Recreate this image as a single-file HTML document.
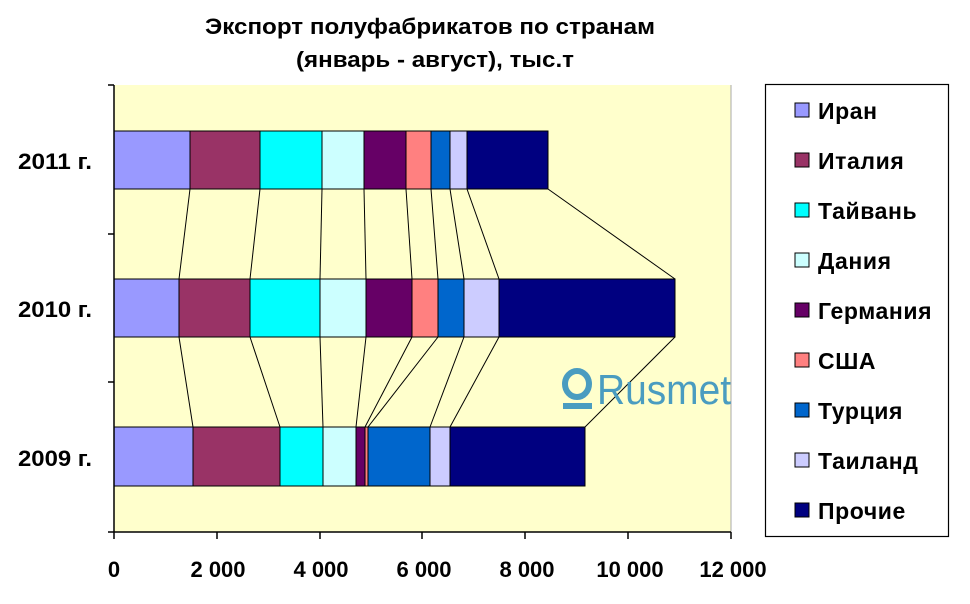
<!DOCTYPE html>
<html><head><meta charset="utf-8"><style>
html,body{margin:0;padding:0;background:#fff;}
svg{display:block;font-family:"Liberation Sans",Arial,sans-serif;}
</style></head><body>
<svg width="970" height="604" viewBox="0 0 970 604" xmlns="http://www.w3.org/2000/svg">
<rect width="970" height="604" fill="#fff"/>
<text x="430" y="34" text-anchor="middle" font-size="22" font-weight="bold" textLength="450" lengthAdjust="spacingAndGlyphs">Экспорт полуфабрикатов по странам</text>
<text x="435" y="67" text-anchor="middle" font-size="22" font-weight="bold" textLength="278" lengthAdjust="spacingAndGlyphs">(январь - август), тыс.т</text>
<rect x="114" y="85" width="617" height="447" fill="#ffffcc"/>
<line x1="731" y1="85" x2="731" y2="532" stroke="#aaa" stroke-width="1"/>
<g stroke="#000" stroke-width="1" fill="none">
<line x1="190" y1="189" x2="179" y2="279"/>
<line x1="260" y1="189" x2="250" y2="279"/>
<line x1="322" y1="189" x2="320" y2="279"/>
<line x1="364" y1="189" x2="366" y2="279"/>
<line x1="406" y1="189" x2="412" y2="279"/>
<line x1="431" y1="189" x2="438" y2="279"/>
<line x1="450" y1="189" x2="464" y2="279"/>
<line x1="467" y1="189" x2="499" y2="279"/>
<line x1="548" y1="189" x2="675" y2="279"/>
<line x1="179" y1="337" x2="193" y2="427"/>
<line x1="250" y1="337" x2="280" y2="427"/>
<line x1="320" y1="337" x2="323" y2="427"/>
<line x1="366" y1="337" x2="356" y2="427"/>
<line x1="412" y1="337" x2="365" y2="427"/>
<line x1="438" y1="337" x2="368" y2="427"/>
<line x1="464" y1="337" x2="430" y2="427"/>
<line x1="499" y1="337" x2="450" y2="427"/>
<line x1="675" y1="337" x2="585" y2="427"/>
</g>
<g fill="#4a9cc0">
<ellipse cx="577" cy="384" rx="12" ry="13" fill="none" stroke="#4a9cc0" stroke-width="6"/>
<rect x="563" y="403" width="29" height="6"/>
<text x="597" y="404" font-size="42" font-family="'Liberation Sans',sans-serif" textLength="134" lengthAdjust="spacingAndGlyphs">Rusmet</text>
</g>
<g stroke="#000" stroke-width="1">
<rect x="114" y="131" width="76" height="58" fill="#9999ff"/>
<rect x="190" y="131" width="70" height="58" fill="#993366"/>
<rect x="260" y="131" width="62" height="58" fill="#00ffff"/>
<rect x="322" y="131" width="42" height="58" fill="#ccffff"/>
<rect x="364" y="131" width="42" height="58" fill="#660066"/>
<rect x="406" y="131" width="25" height="58" fill="#ff8080"/>
<rect x="431" y="131" width="19" height="58" fill="#0066cc"/>
<rect x="450" y="131" width="17" height="58" fill="#ccccff"/>
<rect x="467" y="131" width="81" height="58" fill="#000080"/>
<rect x="114" y="279" width="65" height="58" fill="#9999ff"/>
<rect x="179" y="279" width="71" height="58" fill="#993366"/>
<rect x="250" y="279" width="70" height="58" fill="#00ffff"/>
<rect x="320" y="279" width="46" height="58" fill="#ccffff"/>
<rect x="366" y="279" width="46" height="58" fill="#660066"/>
<rect x="412" y="279" width="26" height="58" fill="#ff8080"/>
<rect x="438" y="279" width="26" height="58" fill="#0066cc"/>
<rect x="464" y="279" width="35" height="58" fill="#ccccff"/>
<rect x="499" y="279" width="176" height="58" fill="#000080"/>
<rect x="114" y="427" width="79" height="59" fill="#9999ff"/>
<rect x="193" y="427" width="87" height="59" fill="#993366"/>
<rect x="280" y="427" width="43" height="59" fill="#00ffff"/>
<rect x="323" y="427" width="33" height="59" fill="#ccffff"/>
<rect x="356" y="427" width="9" height="59" fill="#660066"/>
<rect x="365" y="427" width="3" height="59" fill="#ff8080"/>
<rect x="368" y="427" width="62" height="59" fill="#0066cc"/>
<rect x="430" y="427" width="20" height="59" fill="#ccccff"/>
<rect x="450" y="427" width="135" height="59" fill="#000080"/>
</g>
<g stroke="#000" stroke-width="1.5">
<line x1="114" y1="85" x2="114" y2="532"/>
<line x1="114" y1="532" x2="731" y2="532"/>
<line x1="108" y1="85" x2="114" y2="85"/>
<line x1="108" y1="234" x2="114" y2="234"/>
<line x1="108" y1="382" x2="114" y2="382"/>
<line x1="108" y1="532" x2="114" y2="532"/>
<line x1="114" y1="532" x2="114" y2="539"/>
<line x1="217" y1="532" x2="217" y2="539"/>
<line x1="320" y1="532" x2="320" y2="539"/>
<line x1="422" y1="532" x2="422" y2="539"/>
<line x1="525" y1="532" x2="525" y2="539"/>
<line x1="628" y1="532" x2="628" y2="539"/>
<line x1="731" y1="532" x2="731" y2="539"/>
</g>
<g font-size="22" font-weight="bold" text-anchor="middle">
<text x="114" y="577">0</text>
<text x="218" y="577">2 000</text>
<text x="321" y="577">4 000</text>
<text x="424" y="577">6 000</text>
<text x="527" y="577">8 000</text>
<text x="630" y="577">10 000</text>
<text x="733" y="577">12 000</text>
</g>
<g font-size="22" font-weight="bold">
<text x="18" y="169" textLength="74" lengthAdjust="spacingAndGlyphs">2011 г.</text>
<text x="18" y="317" textLength="74" lengthAdjust="spacingAndGlyphs">2010 г.</text>
<text x="18" y="466" textLength="74" lengthAdjust="spacingAndGlyphs">2009 г.</text>
</g>
<rect x="765.5" y="84.5" width="183" height="452" fill="#fff" stroke="#000" stroke-width="1.2"/>
<g stroke="#000" stroke-width="1">
<rect x="795" y="103" width="14" height="14" fill="#9999ff"/>
<rect x="795" y="153" width="14" height="14" fill="#993366"/>
<rect x="795" y="203" width="14" height="14" fill="#00ffff"/>
<rect x="795" y="253" width="14" height="14" fill="#ccffff"/>
<rect x="795" y="303" width="14" height="14" fill="#660066"/>
<rect x="795" y="353" width="14" height="14" fill="#ff8080"/>
<rect x="795" y="403" width="14" height="14" fill="#0066cc"/>
<rect x="795" y="453" width="14" height="14" fill="#ccccff"/>
<rect x="795" y="503" width="14" height="14" fill="#000080"/>
</g>
<g font-size="23" font-weight="bold" letter-spacing="0.6">
<text x="818" y="119">Иран</text>
<text x="818" y="169">Италия</text>
<text x="818" y="219">Тайвань</text>
<text x="818" y="269">Дания</text>
<text x="818" y="319">Германия</text>
<text x="818" y="369">США</text>
<text x="818" y="419">Турция</text>
<text x="818" y="469">Таиланд</text>
<text x="818" y="519">Прочие</text>
</g>
</svg>
</body></html>
